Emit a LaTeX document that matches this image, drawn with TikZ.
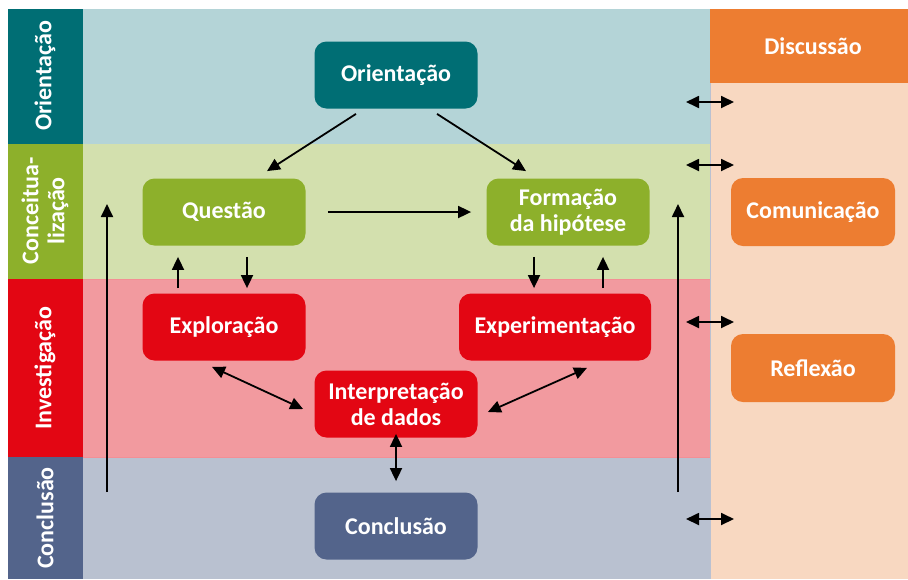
\documentclass[tikz,border=0pt]{standalone}
\usepackage{fontspec}
\setmainfont{Carlito}
\usetikzlibrary{positioning,arrows.meta}

\definecolor{oriDark}{HTML}{006E74}
\definecolor{oriLight}{HTML}{B4D4D7}
\definecolor{conDark}{HTML}{8DB02B}
\definecolor{conLight}{HTML}{D3E0AE}
\definecolor{invDark}{HTML}{E30613}
\definecolor{invLight}{HTML}{F29A9F}
\definecolor{cluDark}{HTML}{53648B}
\definecolor{cluLight}{HTML}{B9C1D0}
\definecolor{disDark}{HTML}{ED7D31}
\definecolor{disLight}{HTML}{F8D8C1}

\begin{document}
\begin{tikzpicture}[x=0.5pt,y=-0.5pt,>={Triangle[length=6.5pt,width=6pt]},font=\fontsize{12}{13}\selectfont\bfseries,
	box/.style={minimum width=81.5pt,minimum height=33.5pt,rounded corners=6pt,text=white,align=center,inner sep=0pt},
	phase/.style={rotate=90,text=white,align=center,inner sep=0pt},
	link/.style={->,line width=0.9pt},
	twoway/.style={<->,line width=0.9pt}]
	\useasboundingbox (0,0) rectangle (908,579);
	% bands
	\fill [oriLight] (83,9) rectangle (710,144);
	\fill [conLight] (83,144) rectangle (710,279);
	\fill [invLight] (83,279) rectangle (710,457);
	\fill [cluLight] (83,457) rectangle (710,579);
	\draw [invDark!45,line width=0.4pt] (83,279) -- (710,279) (83,457) -- (710,457);
	\fill [oriDark] (8,9) rectangle (83,144);
	\fill [conDark] (8,144) rectangle (83,279);
	\fill [invDark] (8,279) rectangle (83,457);
	\fill [cluDark] (8,457) rectangle (83,579);
	\fill [disLight] (710,83) rectangle (908,579);
	\fill [disDark] (710,9) rectangle (908,83);
	\draw [cluDark!40,line width=0.4pt] (710,83) -- (710,579);
	% phase labels
	\node [phase] at (45,76) (pOri) {Orientação};
	\node [phase] at (45,211) (pCon) {Conceitua-\\lização};
	\node [phase] at (45,368) (pInv) {Investigação};
	\node [phase] at (45,518) (pClu) {Conclusão};
	\node [text=white] at (813,46) (pDis) {Discussão};
	% boxes
	\node [box,fill=oriDark] at (396,75) (ori) {Orientação};
	\node [box,fill=conDark] at (224,212) (que) {Questão};
	\node [box,fill=conDark] at (568,212) (hip) {Formação\\da hipótese};
	\node [box,fill=invDark] at (224,327) (exp) {Exploração};
	\node [box,fill=invDark,minimum width=96pt] at (555,327) (xpe) {Experimentação};
	\node [box,fill=invDark] at (396,404) (int) {Interpretação\\de dados};
	\node [box,fill=cluDark] at (396,526) (clu) {Conclusão};
	\node [box,fill=disDark,minimum width=82pt,minimum height=34pt] at (813,212) (com) {Comunicação};
	\node [box,fill=disDark,minimum width=82pt,minimum height=34pt] at (813,368) (ref) {Reflexão};
	% connectors
	\draw [link] ([xshift=-20pt,yshift=-2.5pt]ori.south) -- ([xshift=21.5pt,yshift=3.5pt]que.north);
	\draw [link] ([xshift=20.5pt,yshift=-2.5pt]ori.south) -- ([xshift=-21pt,yshift=3.5pt]hip.north);
	\draw [link,shorten <=11pt,shorten >=7.5pt] (que.east) -- (hip.west);
	\draw [link,shorten <=2.5pt,shorten >=5.5pt] ([xshift=-23pt]exp.north) -- ([xshift=-23pt]que.south);
	\draw [link,shorten <=5.5pt,shorten >=2.5pt] ([xshift=11.5pt]que.south) -- ([xshift=11.5pt]exp.north);
	\draw [link,shorten <=5.5pt,shorten >=2.5pt] ([xshift=-17pt]hip.south) -- ([xshift=-17pt]hip.south |- xpe.north);
	\draw [link,shorten <=2.5pt,shorten >=5.5pt] ([xshift=17.5pt]hip.south |- xpe.north) -- ([xshift=17.5pt]hip.south);
	\draw [twoway] ([xshift=-6pt,yshift=-3pt]exp.south) -- ([xshift=-5.5pt,yshift=-2.5pt]int.west);
	\draw [twoway] ([xshift=16pt,yshift=-3.5pt]xpe.south) -- ([xshift=5pt,yshift=-4pt]int.east);
	\draw [twoway,shorten <=-2pt,shorten >=5.5pt] (int.south) -- (clu.north);
	\coordinate (backL0) at (107,492);
	\coordinate (backL1) at (107,204);
	\coordinate (backR0) at (678,492);
	\coordinate (backR1) at (678,204);
	\draw [link] (backL0) -- (backL1);
	\draw [link] (backR0) -- (backR1);
	\foreach \y [count=\i] in {102,165,322,519} {
		\coordinate (talk\i a) at (686,\y);
		\coordinate (talk\i b) at (734,\y);
		\draw [twoway] (talk\i a) -- (talk\i b);
	}
\end{tikzpicture}
\end{document}
